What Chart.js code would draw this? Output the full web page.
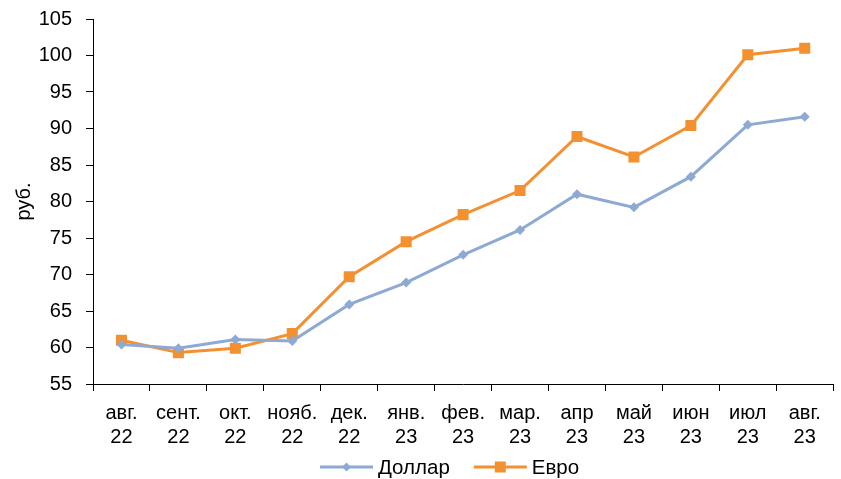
<!DOCTYPE html>
<html>
<head>
<meta charset="utf-8">
<script src="https://cdn.jsdelivr.net/npm/chart.js@4"></script>
<style>
  html, body { margin: 0; padding: 0; background: #fff; }
  #wrap { width: 841px; height: 479px; }
</style>
</head>
<body>
<div id="wrap"><canvas id="c" width="841" height="479"></canvas></div>
<script>
// Monthly exchange rates, rubles per unit
const months = [
  ['авг.', '22'], ['сент.', '22'], ['окт.', '22'], ['нояб.', '22'], ['дек.', '22'],
  ['янв.', '23'], ['фев.', '23'], ['мар.', '23'], ['апр', '23'], ['май', '23'],
  ['июн', '23'], ['июл', '23'], ['авг.', '23']
];
const dollar = [60.4, 59.9, 61.1, 60.9, 65.9, 68.9, 72.7, 76.1, 81.0, 79.2, 83.4, 90.5, 91.6];
const euro   = [61.0, 59.3, 59.9, 61.9, 69.7, 74.5, 78.2, 81.5, 88.9, 86.1, 90.4, 100.1, 101.0];
const yTicks = [55, 60, 65, 70, 75, 80, 85, 90, 95, 100, 105];

const FONT = 'Liberation Sans, Arial, sans-serif';
const BLUE = '#8DA9D4';
const ORANGE = '#F39131';

// Legend drawn as line + marker samples under the plot
const lineLegend = {
  id: 'lineLegend',
  afterDraw(chart) {
    const ctx = chart.ctx;
    const y = 467;
    const items = chart.data.datasets.map(ds => ({
      text: ds.label, color: ds.borderColor, style: ds.pointStyle
    }));
    ctx.save();
    ctx.font = '20.5px ' + FONT;
    ctx.textBaseline = 'middle';
    const sampleW = 53, gap = 5, itemGap = 24;
    let x = 320;
    items.forEach((it, i) => {
      if (i) x += itemGap;
      ctx.strokeStyle = it.color;
      ctx.lineWidth = 3;
      ctx.beginPath();
      ctx.moveTo(x, y);
      ctx.lineTo(x + sampleW, y);
      ctx.stroke();
      ctx.fillStyle = it.color;
      const cx = x + sampleW / 2;
      if (it.style === 'rectRot') {
        ctx.beginPath();
        ctx.moveTo(cx, y - 4.5);
        ctx.lineTo(cx + 4.5, y);
        ctx.lineTo(cx, y + 4.5);
        ctx.lineTo(cx - 4.5, y);
        ctx.closePath();
        ctx.fill();
      } else {
        ctx.fillRect(cx - 5.5, y - 5.5, 11, 11);
      }
      x += sampleW + gap;
      ctx.fillStyle = '#000';
      ctx.fillText(it.text, x, y + 1);
      x += ctx.measureText(it.text).width;
    });
    ctx.restore();
  }
};

new Chart(document.getElementById('c'), {
  type: 'line',
  data: {
    labels: months,
    datasets: [
      {
        label: 'Доллар',
        data: dollar,
        borderColor: BLUE,
        backgroundColor: BLUE,
        borderWidth: 3,
        pointStyle: 'rectRot',
        pointRadius: 5,
        pointBorderWidth: 0,
        tension: 0
      },
      {
        label: 'Евро',
        data: euro,
        borderColor: ORANGE,
        backgroundColor: ORANGE,
        borderWidth: 3,
        pointStyle: 'rect',
        pointRadius: 7.8,
        pointBorderWidth: 0,
        tension: 0
      }
    ]
  },
  options: {
    responsive: false,
    animation: false,
    events: [],
    layout: { padding: { top: 19, right: 0, bottom: 20, left: 0 } },
    plugins: {
      legend: { display: false },
      tooltip: { enabled: false }
    },
    scales: {
      x: {
        type: 'category',
        offset: true,
        grid: {
          offset: true,
          drawOnChartArea: false,
          drawTicks: true,
          tickLength: 7,
          tickColor: '#000',
          tickWidth: 1
        },
        border: { display: true, color: '#000', width: 1 },
        ticks: {
          color: '#000',
          font: { family: FONT, size: 20, lineHeight: 1.2 },
          padding: 10,
          maxRotation: 0,
          autoSkip: false
        },
        afterFit(scale) { scale.height = 75; }
      },
      y: {
        min: 55,
        max: 105,
        afterBuildTicks(scale) { scale.ticks = yTicks.map(v => ({ value: v })); },
        grid: {
          drawOnChartArea: false,
          drawTicks: true,
          tickLength: 7,
          tickColor: '#000',
          tickWidth: 1
        },
        border: { display: true, color: '#000', width: 1 },
        ticks: {
          color: '#000',
          font: { family: FONT, size: 20 },
          padding: 14
        },
        title: {
          display: true,
          text: 'руб.',
          color: '#000',
          font: { family: FONT, size: 20 },
          padding: { top: 12, bottom: 0 }
        },
        afterFit(scale) {
          scale.width = 93;
          scale.paddingTop = 0;
          scale.paddingBottom = 0;
        }
      }
    }
  },
  plugins: [lineLegend]
});
</script>
</body>
</html>
